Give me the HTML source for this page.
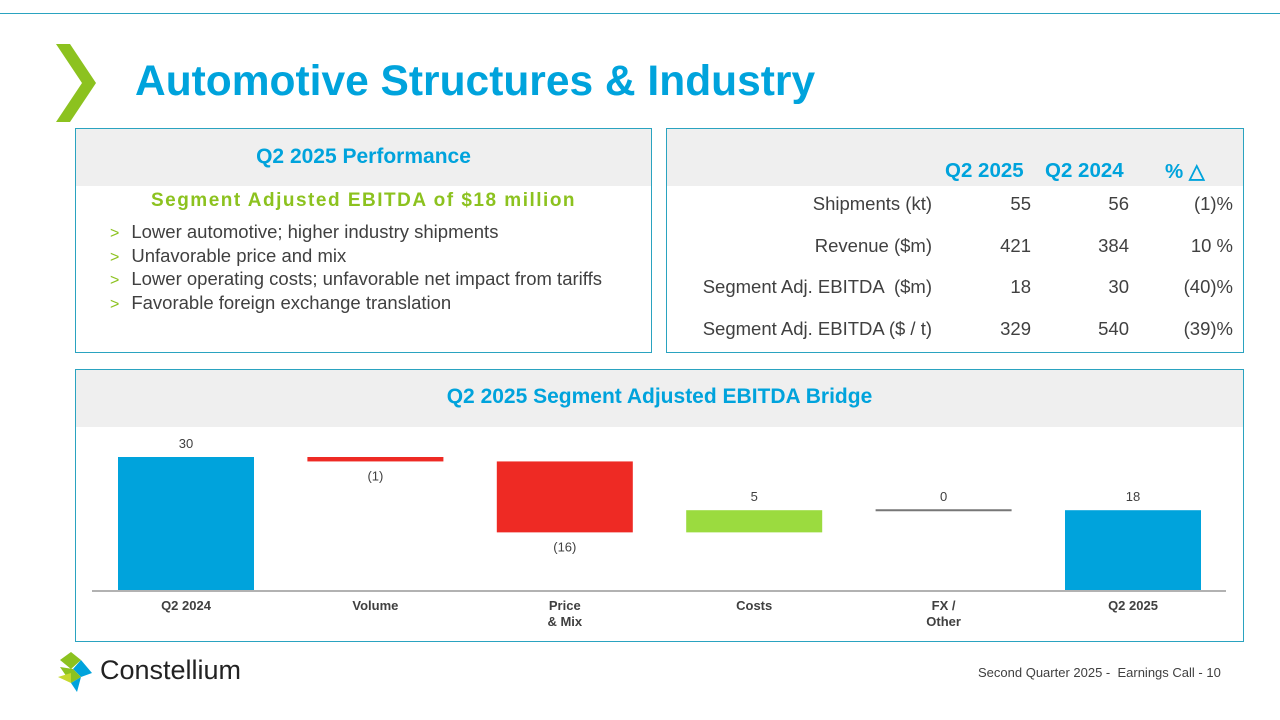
<!DOCTYPE html>
<html><head><meta charset="utf-8"><style>
*{margin:0;padding:0;box-sizing:border-box}
body{width:1280px;height:720px;position:relative;background:#fff;font-family:"Liberation Sans",Arial,sans-serif;overflow:hidden;color:#404040}
.a{position:absolute}
.panel{position:absolute;border:1px solid #2aa3c0;background:#fff}
.hdr{position:absolute;left:0;right:0;top:0;background:#efefef;color:#00a3dc;font-weight:bold;font-size:21px;text-align:center}
.r{text-align:right}
.bl{height:23.6px;line-height:23.6px;white-space:nowrap}
.bl span{color:#8cc21f;margin-right:12px;font-size:16px;line-height:16px}
</style></head><body>
<div class="a" style="left:0;top:13px;width:1280px;height:1px;background:#2aa3c0"></div>
<svg class="a" style="left:56px;top:44px" width="40" height="80"><polygon points="0,0 14,0 40,39 14,78 0,78 26,39" fill="#8cc21f"/></svg>
<div class="a" style="left:135px;top:58px;font-size:42.5px;font-weight:bold;color:#00a3dc">Automotive Structures &amp; Industry</div>

<div class="panel" style="left:75px;top:128px;width:577px;height:225px">
 <div class="hdr" style="height:57px;line-height:55px">Q2 2025 Performance</div>
 <div class="a" style="left:0;right:0;top:61px;text-align:center;color:#8cc21f;font-weight:bold;font-size:19px;letter-spacing:1.5px">Segment Adjusted EBITDA of $18 million</div>
 <div class="a" style="left:34px;top:91px;font-size:18.5px;color:#404040">
  <div class="bl"><span>&gt;</span>Lower automotive; higher industry shipments</div>
  <div class="bl"><span>&gt;</span>Unfavorable price and mix</div>
  <div class="bl"><span>&gt;</span>Lower operating costs; unfavorable net impact from tariffs</div>
  <div class="bl"><span>&gt;</span>Favorable foreign exchange translation</div>
 </div>
</div>

<div class="panel" style="left:666px;top:128px;width:578px;height:225px">
 <div class="hdr" style="height:57px"></div>
 <div class="a" style="left:278px;top:30px;font-size:20.5px;font-weight:bold;color:#00a3dc">Q2 2025</div>
 <div class="a" style="left:378px;top:30px;font-size:20.5px;font-weight:bold;color:#00a3dc">Q2 2024</div>
 <div class="a" style="left:498px;top:30px;font-size:20.5px;font-weight:bold;color:#00a3dc">% △</div>
 <div id="rows"></div>
</div>

<div class="panel" style="left:75px;top:369px;width:1169px;height:273px">
 <div class="hdr" style="height:57px;line-height:53px">Q2 2025 Segment Adjusted EBITDA Bridge</div>
</div>
<svg id="chart" class="a" style="left:0;top:0" width="1280" height="720"></svg>

<svg class="a" style="left:58px;top:652px" width="36" height="42">
<polygon points="13,0 23,8 13,17 2,8" fill="#8cc21f"/><polygon points="23,8 34,21 23,25 15,17" fill="#00a3dc"/><polygon points="2,15 15,17 23,25 13,31" fill="#8cc21f"/><polygon points="13,31 23,25 19,40" fill="#00a3dc"/><polygon points="0,25 13,21 13,31" fill="#c6d92e"/>
</svg>
<div class="a" style="left:100px;top:655px;font-size:27px;color:#222">Constellium</div>
<div class="a" style="left:978px;top:665px;font-size:13px;color:#404040">Second Quarter 2025 -&nbsp; Earnings Call - 10</div>

<script>
const rowLabels=["Shipments (kt)","Revenue ($m)","Segment Adj. EBITDA  ($m)","Segment Adj. EBITDA ($ / t)"];
const q2025=["55","421","18","329"];
const q2024=["56","384","30","540"];
const pct=["(1)%","10 %","(40)%","(39)%"];
const rows=document.getElementById('rows');
rowLabels.forEach((l,i)=>{
 const y=64+i*41.5;
 const cells=[[l,0,265,'row-label'],[q2025[i],290,364,'q2-2025-value'],[q2024[i],390,462,'q2-2024-value'],[pct[i],480,566,'pct-change-value']];
 cells.forEach(c=>{
  const d=document.createElement('div');
  d.className='a r';d.style.left=c[1]+'px';d.style.width=(c[2]-c[1])+'px';d.style.top=y+'px';d.style.fontSize='18.5px';d.style.whiteSpace='pre';
  d.textContent=c[0];
  
  
  rows.appendChild(d);
 });
});

const cats=["Q2 2024","Volume","Price\n& Mix","Costs","FX /\nOther","Q2 2025"];
const vals=[30,-1,-16,5,0,18];
const valLabels=["30","(1)","(16)","5","0","18"];
const kinds=["total","delta","delta","delta","delta","total"];
const svg=document.getElementById('chart');
const NS='http://www.w3.org/2000/svg';
const base=590,scale=133/30;
const y=v=>base-v*scale;
const x0=118,step=189.4,bw=136;
function el(t,a){const e=document.createElementNS(NS,t);for(const k in a)e.setAttribute(k,a[k]);svg.appendChild(e);return e;}
const ax=el('line',{x1:92,x2:1226,y1:base+1,y2:base+1,stroke:'#999','stroke-width':1.5});


let run=0;
vals.forEach((v,i)=>{
 const x=x0+i*step;let top,bot,col;
 if(kinds[i]==='total'){top=y(v);bot=base;col='#00a3dc';run=v;}
 else{const s=run,e=run+v;top=y(Math.max(s,e));bot=y(Math.min(s,e));col=v<0?'#ee2a24':'#9bdb3f';run=e;}
 let r;
 if(v===0){r=el('line',{x1:x,x2:x+bw,y1:top,y2:top,stroke:'#777','stroke-width':2});}
 else r=el('rect',{x:x,y:top,width:bw,height:Math.max(bot-top,1),fill:col});
 
 
 const below=v<0;
 const t=el('text',{x:x+bw/2,y:below?bot+19:top-9,'text-anchor':'middle','font-size':13,fill:'#404040','font-family':'Liberation Sans'});
 t.textContent=valLabels[i];
 
 
 cats[i].split('\n').forEach((ln,j)=>{
  const c=el('text',{x:x+bw/2,y:base+20+j*16,'text-anchor':'middle','font-size':13,'font-weight':'bold',fill:'#404040','font-family':'Liberation Sans'});
  c.textContent=ln;
  
  
 });
});
</script>
</body></html>
